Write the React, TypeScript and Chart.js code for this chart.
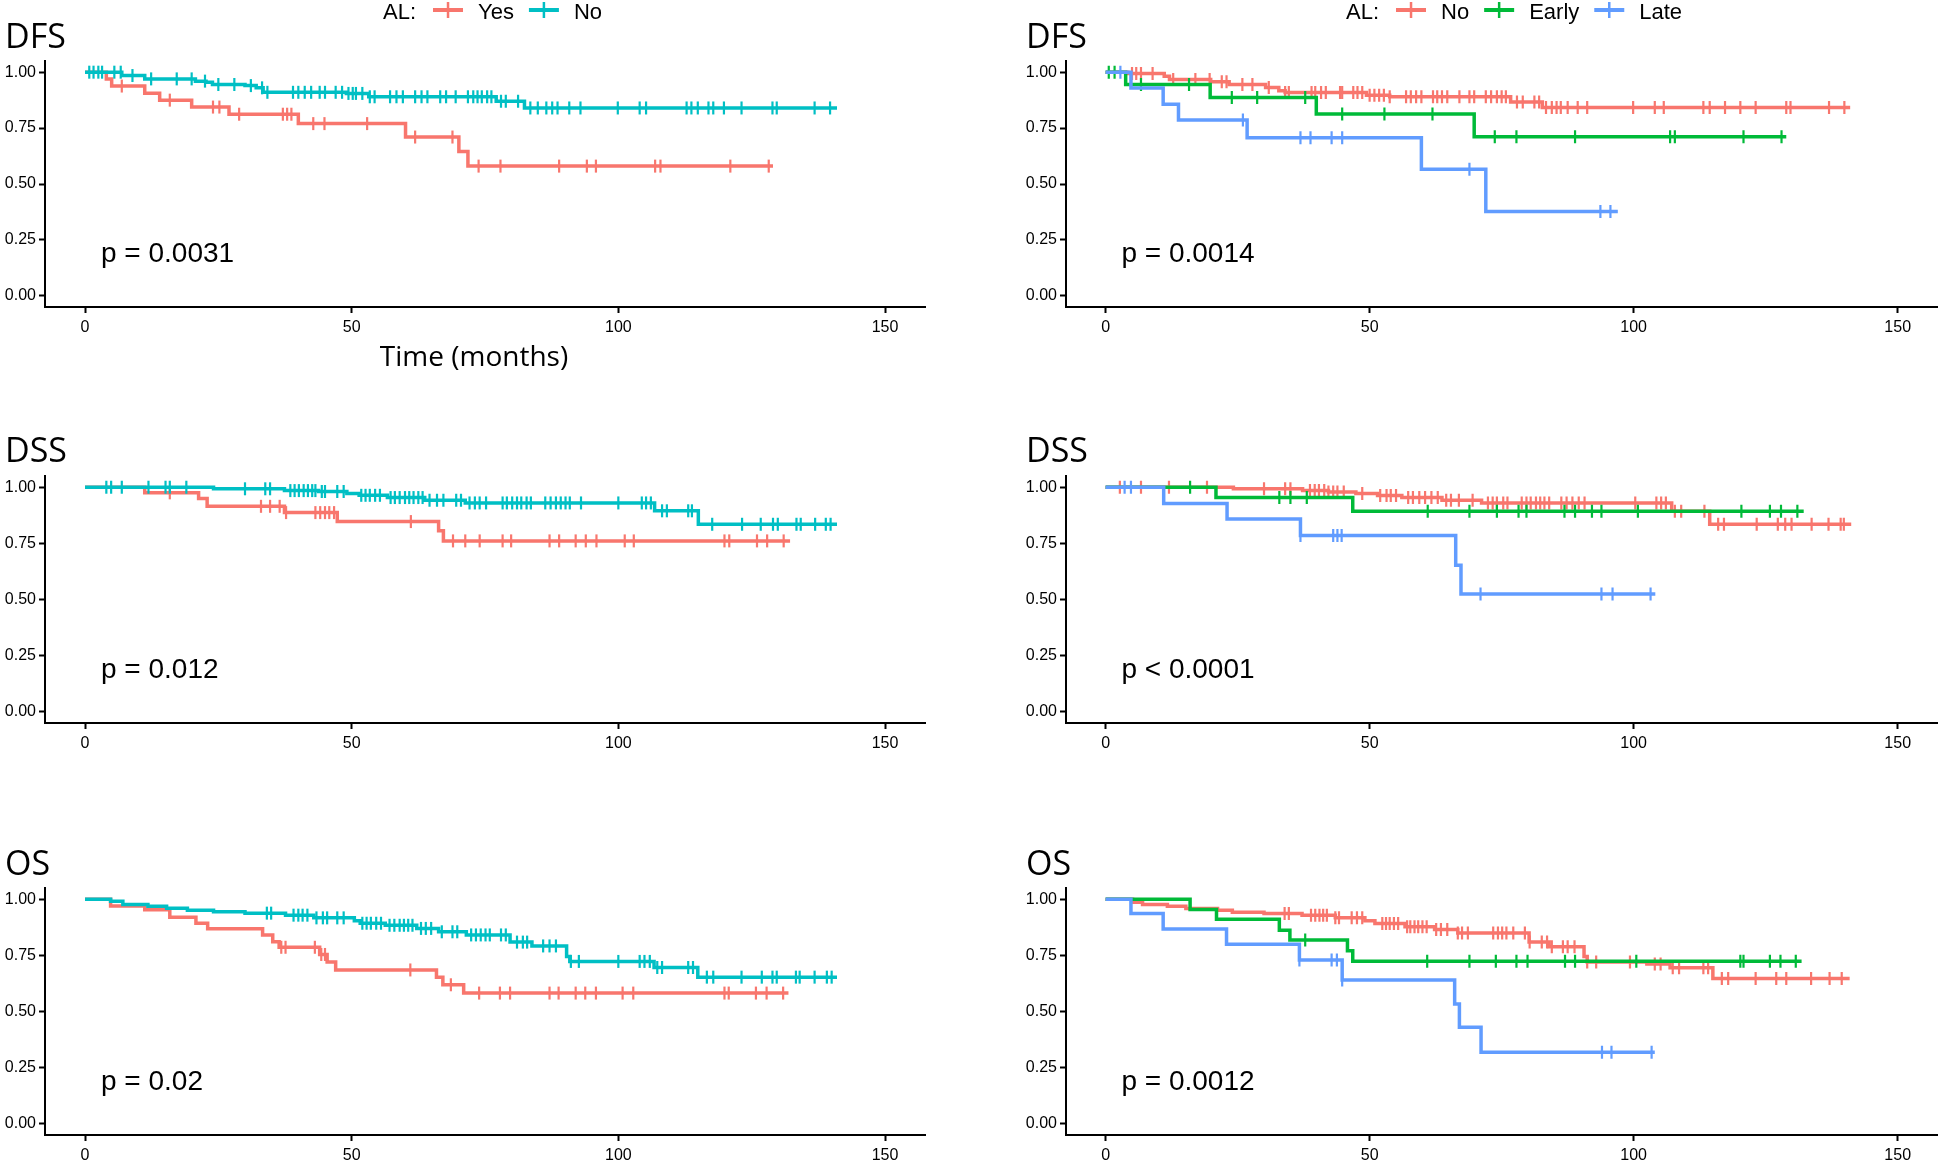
import React, { useEffect, useRef } from "react";
import { Chart, registerables } from "chart.js";

Chart.register(...registerables);

const RED = "#F8766D";
const TEAL = "#00BFC4";
const GREEN = "#00BA38";
const BLUE = "#619CFF";

const xTicks = [0, 50, 100, 150];
const yTicks = [0, 0.25, 0.5, 0.75, 1];

// ---------- DFS, AL Yes / No ----------
const dfsYesTimes = [0, 4, 5, 11.2, 14, 20, 27, 40, 60.1, 70.1, 71.8, 129];
const dfsYesSurv = [1, 0.969, 0.938, 0.906, 0.875, 0.844, 0.812, 0.77, 0.71, 0.645, 0.58, 0.58];
const dfsYesCensor = [6.9, 15.9, 24, 25.2, 28.9, 37.1, 37.9, 38.7, 42.8, 44.9, 52.9, 61.9, 68.9, 73.8, 77.9, 88.9, 94.1, 95.8, 106.9, 107.9, 121, 128.2];

const dfsNoTimes = [0, 6.9, 11.2, 20.7, 22.7, 23.9, 30, 32.1, 33.4, 49, 53.2, 77.1, 82.4, 141];
const dfsNoSurv = [1, 0.985, 0.97, 0.96, 0.955, 0.945, 0.94, 0.93, 0.91, 0.905, 0.89, 0.87, 0.84, 0.84];
const dfsNoCensor = [0.8, 1.6, 2.5, 3.2, 5.5, 6.7, 8.9, 12.4, 17.2, 20, 22.5, 25, 28, 31.1, 33.2, 34.2, 39, 40, 41.2, 42.4, 44, 45, 47, 48.2, 49.4, 50.2, 50.8, 52, 53.4, 54.3, 57.2, 58.4, 59.6, 61.9, 63.1, 64.2, 66.6, 67.7, 69.5, 71.8, 72.8, 73.6, 74.4, 75.4, 76.2, 78, 78.9, 81.2, 83.5, 84.9, 86.5, 87.6, 88.6, 90.8, 92.9, 99.9, 104, 105.2, 112.8, 113.7, 114.9, 116.9, 117.8, 119.8, 123.1, 128.9, 129.7, 136.8, 139.7];

// ---------- DFS, AL No / Early / Late ----------
const dfs3NoTimes = [0, 4.2, 11.1, 12.1, 19.9, 23.4, 30.3, 32.8, 34.0, 49.4, 53.8, 76.7, 82.7, 141];
const dfs3NoSurv = [1, 0.994, 0.982, 0.967, 0.957, 0.945, 0.932, 0.917, 0.909, 0.897, 0.89, 0.867, 0.842, 0.842];
const dfs3NoCensor = [5, 5.8, 6.7, 8.9, 12.8, 17, 19.7, 22, 22.9, 25.9, 27.8, 30.9, 34, 34.7, 39, 39.7, 40.8, 41.7, 44.4, 44.8, 46.9, 47.7, 48.6, 50, 50.9, 51.8, 52.7, 53.8, 56.9, 57.8, 58.8, 59.8, 62, 62.8, 63.7, 64.7, 67, 68.9, 69.8, 72, 73, 74.1, 75, 75.8, 77.9, 79, 81.2, 82.1, 83.4, 84.5, 85.4, 86.2, 87.5, 89.4, 91.2, 99.9, 104, 105.7, 113.2, 114.4, 117.3, 120.2, 123.1, 128.9, 129.7, 137, 139.9];

const dfs3EarlyTimes = [0, 3.8, 19.8, 39.9, 69.8, 128.9];
const dfs3EarlySurv = [1, 0.945, 0.887, 0.8125, 0.711, 0.711];
const dfs3EarlyCensor = [0.6, 1.7, 6.7, 15.8, 23.9, 28.7, 37.8, 44.8, 52.8, 61.9, 73.7, 77.8, 88.9, 106.9, 107.8, 120.8, 128];

const dfs3LateTimes = [0, 4.8, 10.9, 13.8, 26.8, 59.8, 72, 97];
const dfs3LateSurv = [1, 0.929, 0.857, 0.786, 0.707, 0.566, 0.377, 0.377];
const dfs3LateCensor = [2.8, 26, 36.9, 38.8, 42.8, 44.8, 68.9, 93.7, 95.6];

// ---------- DSS, AL Yes / No ----------
const dssYesTimes = [0, 11.2, 21.3, 22.9, 37.4, 47.3, 66.3, 67.2, 132.2];
const dssYesSurv = [1, 0.975, 0.95, 0.915, 0.887, 0.847, 0.806, 0.761, 0.761];
const dssYesCensor = [15.9, 33, 34.7, 36.5, 37.7, 43.2, 44.1, 45, 45.8, 46.7, 61.1, 69, 71.3, 74, 78.3, 79.9, 87.1, 88.9, 92, 93.9, 95.9, 101.2, 102.9, 119.9, 120.8, 126, 127.9, 131];

const dssNoTimes = [0, 24.1, 37.4, 43.8, 49.1, 51.4, 56.7, 63.7, 71.3, 106.8, 115, 141];
const dssNoSurv = [1, 0.993, 0.985, 0.981, 0.972, 0.964, 0.954, 0.942, 0.93, 0.895, 0.835, 0.835];
const dssNoCensor = [4, 4.9, 6.9, 11.9, 15.1, 15.9, 19, 30, 33.8, 34.7, 38.5, 39.3, 40.1, 41, 41.8, 42.6, 43.2, 44.4, 45, 47.3, 48.5, 51.8, 52.6, 53.4, 54.4, 55.3, 57.3, 58.1, 59, 60, 60.8, 61.6, 62.5, 63.3, 64.6, 66, 67.2, 69.6, 70.5, 72.1, 73.1, 74, 75.2, 78.3, 79.1, 80.1, 81, 81.8, 82.8, 83.6, 86.3, 87.3, 88.3, 89.2, 90.1, 90.9, 93, 100, 104.4, 105.2, 106.1, 108.2, 109.1, 113.1, 113.8, 117.6, 123.2, 126.7, 129, 129.9, 133.4, 134.2, 136.9, 138.9, 139.8];

// ---------- DSS, AL No / Early / Late ----------
const dss3NoTimes = [0, 24.2, 37.3, 42.2, 47.4, 51.5, 56.1, 63.7, 71.2, 107.2, 114.4, 141.2];
const dss3NoSurv = [1, 0.993, 0.985, 0.979, 0.972, 0.963, 0.954, 0.942, 0.93, 0.893, 0.835, 0.835];
const dss3NoCensor = [2.7, 6.7, 12, 19.2, 30, 34, 35, 38.7, 39.6, 40.4, 41.4, 42.2, 43.1, 43.9, 45.1, 48.6, 52, 53.2, 54, 55, 57.3, 58.2, 59.4, 60.5, 61.7, 62.9, 64.5, 65.4, 66.9, 69.5, 72.4, 73.3, 74.1, 75.3, 76.1, 78.8, 79.7, 80.5, 81.5, 82.3, 83.1, 84, 86.3, 87.3, 88.4, 89.6, 90.7, 100.3, 104.3, 105.2, 106.1, 107.8, 109, 113.4, 116, 117.1, 123.3, 127.3, 128.7, 129.9, 133.7, 136.9, 139.2, 139.8];

const dss3EarlyTimes = [0, 20.9, 46.8, 132.2];
const dss3EarlySurv = [1, 0.954, 0.893, 0.893];
const dss3EarlyCensor = [16, 32.9, 35, 38.1, 61, 68.9, 74.1, 78.2, 79.7, 86.9, 88.9, 92.1, 93.9, 100.8, 120.4, 125.8, 127.9, 131];

const dss3LateTimes = [0, 11, 23, 36.9, 66.3, 67.3, 104.1];
const dss3LateSurv = [1, 0.927, 0.858, 0.785, 0.653, 0.524, 0.524];
const dss3LateCensor = [3.6, 4.8, 36.9, 43.1, 43.9, 44.7, 71, 93.9, 96, 103.2];

// ---------- OS, AL Yes / No ----------
const osYesTimes = [0, 4.8, 11.2, 15.9, 20.8, 23, 33.3, 35.2, 36.4, 44, 45.4, 47, 65.9, 67.1, 71, 131.9];
const osYesSurv = [1, 0.97, 0.953, 0.92, 0.893, 0.869, 0.841, 0.811, 0.786, 0.754, 0.721, 0.685, 0.653, 0.619, 0.582, 0.582];
const osYesCensor = [36.8, 37.6, 43.1, 44.3, 45, 61, 68.6, 73.9, 77.8, 79.7, 87.1, 88.8, 92, 93.8, 95.8, 100.8, 102.8, 119.9, 120.7, 125.8, 127.8, 130.9];

const osNoTimes = [0, 4.8, 7.1, 11.8, 15.3, 19.2, 24.1, 30, 37.6, 42.9, 50.5, 51.6, 56.3, 62.2, 66.3, 71.5, 79.7, 83.8, 90.3, 90.9, 106.7, 114.9, 141];
const osNoSurv = [1, 0.991, 0.976, 0.969, 0.96, 0.951, 0.944, 0.938, 0.929, 0.917, 0.904, 0.893, 0.884, 0.87, 0.855, 0.841, 0.809, 0.792, 0.745, 0.723, 0.696, 0.653, 0.653];
const osNoCensor = [34.1, 34.9, 39.1, 40, 40.8, 41.7, 43.4, 44.6, 45.4, 47.3, 48.5, 52, 52.8, 53.6, 54.6, 55.5, 57.1, 58, 59, 59.8, 60.6, 61.4, 63, 63.9, 64.9, 66.9, 68.9, 69.8, 72.4, 73.3, 74.2, 75.1, 75.9, 78, 78.9, 81, 82.1, 82.9, 85.9, 87.1, 88.3, 91.1, 92.6, 100, 104, 104.9, 105.9, 107.3, 108.2, 113.1, 114, 116.6, 117.8, 123.1, 126.9, 128.9, 129.7, 133.3, 134, 136.8, 139.1, 140];

// ---------- OS, AL No / Early / Late ----------
const os3NoTimes = [0, 5.1, 7, 11.7, 15.2, 21.2, 24, 30, 37.2, 43.5, 49.1, 51, 56.7, 62.3, 66.7, 80.2, 84, 90.6, 91.2, 102.5, 106.9, 115, 140.9];
const os3NoSurv = [1, 0.987, 0.976, 0.969, 0.959, 0.951, 0.942, 0.936, 0.929, 0.917, 0.904, 0.892, 0.877, 0.865, 0.85, 0.81, 0.788, 0.745, 0.721, 0.711, 0.695, 0.647, 0.647];
const os3NoCensor = [33.9, 34.7, 38.9, 39.7, 40.5, 41.2, 41.9, 43.5, 44.2, 46.6, 47.6, 48.6, 52.4, 53.1, 53.8, 54.6, 55.4, 57.1, 57.7, 58.5, 59.2, 60, 60.8, 62.6, 63.5, 64.7, 66.7, 67.5, 68.6, 73.4, 74.3, 75.1, 75.9, 77.2, 79.4, 80.3, 82.6, 83.6, 84.5, 86.6, 87.5, 88.8, 91.2, 92.9, 99.3, 104, 105.1, 107.4, 108.6, 113.2, 114.1, 116.7, 117.9, 123.1, 127, 128.9, 133.6, 137.1, 139.4];

const os3EarlyTimes = [0, 16, 21, 32.9, 34.9, 45.8, 46.8, 131.8];
const os3EarlySurv = [1, 0.954, 0.911, 0.862, 0.818, 0.77, 0.724, 0.724];
const os3EarlyCensor = [37.8, 60.9, 68.9, 73.9, 77.8, 79.9, 87, 88.9, 100.5, 120.2, 120.8, 125.8, 127.8, 130.7];

const os3LateTimes = [0, 4.8, 10.9, 22.9, 36.7, 44.8, 66.1, 67, 71.1, 104];
const os3LateSurv = [1, 0.936, 0.867, 0.8, 0.729, 0.64, 0.533, 0.43, 0.319, 0.319];
const os3LateCensor = [36.7, 42.8, 43.8, 44.8, 94, 95.8, 103.4];

const legend2Labels = ["Yes", "No"];
const legend3Labels = ["No", "Early", "Late"];

type Group = { label: string; color: string; times: number[]; surv: number[]; censor: number[] };

type PanelSpec = {
  left: number;
  top: number;
  width: number;
  height: number;
  padTop: number;
  padRight: number;
  yWidth: number;
  xHeight: number;
  title: string;
  titleX: number;
  titleBaseline: number;
  pval: string;
  groups: Group[];
  legendX?: number;
  xTitle?: { text: string; x: number; y: number };
};

const SANS = '"Liberation Sans", Arial, sans-serif';
const TITLE_FONT = '"Open Sans", "Noto Sans", sans-serif';

function survAt(g: Group, t: number): number {
  let s = g.surv[0];
  for (let i = 0; i < g.times.length; i++) {
    if (g.times[i] <= t) s = g.surv[i];
  }
  return s;
}

function Panel({ spec }: { spec: PanelSpec }) {
  const ref = useRef<HTMLCanvasElement | null>(null);

  useEffect(() => {
    if (!ref.current) return;
    const datasets: any[] = [];
    const n = spec.groups.length;
    spec.groups.forEach((g, gi) => {
      const ord = (n - gi) * 2;
      datasets.push({
        label: g.label,
        data: g.times.map((t, i) => ({ x: t, y: g.surv[i] })),
        borderColor: g.color,
        backgroundColor: g.color,
        borderWidth: 3.5,
        pointRadius: 0,
        stepped: "before",
        fill: false,
        order: ord,
      });
      datasets.push({
        label: g.label + " censored",
        data: g.censor.map((t) => ({ x: t, y: survAt(g, t) })),
        showLine: false,
        pointStyle: "line",
        pointRotation: 90,
        pointRadius: 6.5,
        pointBorderWidth: 2.2,
        pointBorderColor: g.color,
        borderColor: g.color,
        backgroundColor: g.color,
        order: ord - 1,
      });
    });

    const overlay = {
      id: "overlay",
      afterDraw(chart: any) {
        const ctx = chart.ctx;
        const xs = chart.scales.x;
        const ys = chart.scales.y;
        ctx.save();
        ctx.fillStyle = "#000";
        // title
        ctx.font = `34px ${TITLE_FONT}`;
        ctx.textAlign = "left";
        ctx.textBaseline = "alphabetic";
        ctx.fillText(spec.title, spec.titleX, spec.titleBaseline);
        // p value
        ctx.font = `28px ${SANS}`;
        ctx.fillText(spec.pval, xs.getPixelForValue(3), ys.getPixelForValue(0.15));
        // x title
        if (spec.xTitle) {
          ctx.font = `28px ${TITLE_FONT}`;
          ctx.textAlign = "center";
          ctx.textBaseline = "middle";
          ctx.fillText(spec.xTitle.text, spec.xTitle.x, spec.xTitle.y);
        }
        // legend
        if (spec.legendX !== undefined) {
          ctx.font = `22px ${SANS}`;
          ctx.textAlign = "left";
          ctx.textBaseline = "middle";
          let x = spec.legendX;
          const ty = 13;
          const sy = 10;
          ctx.fillText("AL:", x, ty);
          x += ctx.measureText("AL:").width + 17;
          spec.groups.forEach((g) => {
            ctx.strokeStyle = g.color;
            ctx.lineWidth = 4;
            ctx.beginPath();
            ctx.moveTo(x, sy);
            ctx.lineTo(x + 30, sy);
            ctx.stroke();
            ctx.lineWidth = 2.5;
            ctx.beginPath();
            ctx.moveTo(x + 15, sy - 8);
            ctx.lineTo(x + 15, sy + 8);
            ctx.stroke();
            x += 45;
            ctx.fillStyle = "#000";
            ctx.fillText(g.label, x, ty);
            x += ctx.measureText(g.label).width + 15;
          });
        }
        ctx.restore();
      },
    };

    const chart = new Chart(ref.current, {
      type: "line",
      data: { datasets },
      plugins: [overlay],
      options: {
        animation: false,
        responsive: false,
        devicePixelRatio: 1,
        events: [],
        layout: { padding: { top: spec.padTop, right: spec.padRight, left: 0, bottom: 0 } },
        plugins: {
          legend: { display: false },
          tooltip: { enabled: false },
          title: { display: false },
        },
        scales: {
          x: {
            type: "linear",
            min: -7.5,
            max: 157.5,
            afterBuildTicks: (s: any) => {
              s.ticks = xTicks.map((v) => ({ value: v }));
            },
            afterFit: (s: any) => {
              s.height = spec.xHeight;
            },
            grid: {
              drawOnChartArea: false,
              drawTicks: true,
              tickLength: 6,
              color: "#000",
              tickColor: "#000",
              tickWidth: 2,
            },
            border: { display: true, color: "#000", width: 2 },
            ticks: {
              color: "#000",
              font: { family: SANS, size: 16 },
              padding: 5,
              maxRotation: 0,
              autoSkip: false,
              callback: (v: any) => String(v),
            },
          },
          y: {
            type: "linear",
            min: -0.05,
            max: 1.05,
            afterBuildTicks: (s: any) => {
              s.ticks = yTicks.map((v) => ({ value: v }));
            },
            afterFit: (s: any) => {
              s.width = spec.yWidth;
            },
            grid: {
              drawOnChartArea: false,
              drawTicks: true,
              tickLength: 6,
              color: "#000",
              tickColor: "#000",
              tickWidth: 2,
            },
            border: { display: true, color: "#000", width: 2 },
            ticks: {
              color: "#000",
              font: { family: SANS, size: 16 },
              padding: 3,
              autoSkip: false,
              callback: (v: any) => Number(v).toFixed(2),
            },
          },
        },
      } as any,
    });
    return () => chart.destroy();
  }, [spec]);

  return (
    <canvas
      ref={ref}
      width={spec.width}
      height={spec.height}
      style={{
        position: "absolute",
        left: spec.left,
        top: spec.top,
        width: spec.width,
        height: spec.height,
        display: "block",
      }}
    />
  );
}

function two(yT: number[], yS: number[], yC: number[], nT: number[], nS: number[], nC: number[]): Group[] {
  return [
    { label: legend2Labels[0], color: RED, times: yT, surv: yS, censor: yC },
    { label: legend2Labels[1], color: TEAL, times: nT, surv: nS, censor: nC },
  ];
}

function three(
  nT: number[], nS: number[], nC: number[],
  eT: number[], eS: number[], eC: number[],
  lT: number[], lS: number[], lC: number[]
): Group[] {
  return [
    { label: legend3Labels[0], color: RED, times: nT, surv: nS, censor: nC },
    { label: legend3Labels[1], color: GREEN, times: eT, surv: eS, censor: eC },
    { label: legend3Labels[2], color: BLUE, times: lT, surv: lS, censor: lC },
  ];
}

const LEFT = { left: 0, width: 960, padRight: 35, yWidth: 45, titleX: 5 };
const RIGHT = { left: 1000, width: 946, padRight: 4, yWidth: 66, titleX: 26 };
const ROW1 = { top: 0, height: 380, padTop: 61, xHeight: 73 };
const ROW2 = { top: 400, height: 360, padTop: 76, xHeight: 37 };
const ROW3 = { top: 800, height: 362, padTop: 88, xHeight: 27 };

const panels: PanelSpec[] = [
  {
    ...LEFT, ...ROW1, title: "DFS", titleBaseline: 48, pval: "p = 0.0031",
    groups: two(dfsYesTimes, dfsYesSurv, dfsYesCensor, dfsNoTimes, dfsNoSurv, dfsNoCensor),
    legendX: 383,
    xTitle: { text: "Time (months)", x: 474, y: 358 },
  },
  {
    ...RIGHT, ...ROW1, title: "DFS", titleBaseline: 48, pval: "p = 0.0014",
    groups: three(dfs3NoTimes, dfs3NoSurv, dfs3NoCensor, dfs3EarlyTimes, dfs3EarlySurv, dfs3EarlyCensor, dfs3LateTimes, dfs3LateSurv, dfs3LateCensor),
    legendX: 346,
  },
  {
    ...LEFT, ...ROW2, title: "DSS", titleBaseline: 62, pval: "p = 0.012",
    groups: two(dssYesTimes, dssYesSurv, dssYesCensor, dssNoTimes, dssNoSurv, dssNoCensor),
  },
  {
    ...RIGHT, ...ROW2, title: "DSS", titleBaseline: 62, pval: "p < 0.0001",
    groups: three(dss3NoTimes, dss3NoSurv, dss3NoCensor, dss3EarlyTimes, dss3EarlySurv, dss3EarlyCensor, dss3LateTimes, dss3LateSurv, dss3LateCensor),
  },
  {
    ...LEFT, ...ROW3, title: "OS", titleBaseline: 75, pval: "p = 0.02",
    groups: two(osYesTimes, osYesSurv, osYesCensor, osNoTimes, osNoSurv, osNoCensor),
  },
  {
    ...RIGHT, ...ROW3, title: "OS", titleBaseline: 75, pval: "p = 0.0012",
    groups: three(os3NoTimes, os3NoSurv, os3NoCensor, os3EarlyTimes, os3EarlySurv, os3EarlyCensor, os3LateTimes, os3LateSurv, os3LateCensor),
  },
];

export default function App() {
  return (
    <div
      style={{
        position: "absolute",
        left: 0,
        top: 0,
        width: 1946,
        height: 1162,
        background: "#fff",
        overflow: "hidden",
      }}
    >
      {panels.map((p, i) => (
        <Panel key={i} spec={p} />
      ))}
    </div>
  );
}
